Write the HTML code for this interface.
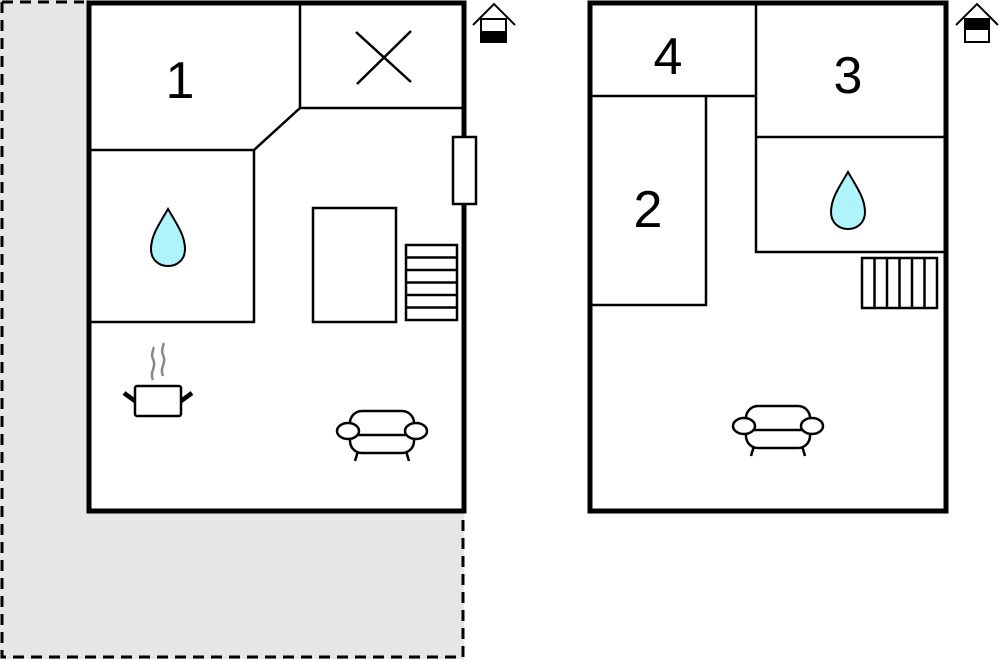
<!DOCTYPE html>
<html><head><meta charset="utf-8"><style>html,body{margin:0;padding:0;background:#fff}svg{display:block}</style></head>
<body>
<svg width="1000" height="659" viewBox="0 0 1000 659" xmlns="http://www.w3.org/2000/svg" font-family="Liberation Sans, sans-serif">
<defs>
<g id="sofa" fill="#fff" stroke="#000" stroke-width="2.5">
<line x1="22" y1="40" x2="19" y2="50"/><line x1="70" y1="40" x2="73" y2="50"/>
<rect x="14" y="0" width="64" height="42" rx="12"/>
<line x1="22" y1="24" x2="70" y2="24"/>
<ellipse cx="12" cy="20" rx="11" ry="8"/><ellipse cx="80" cy="20" rx="11" ry="8"/>
</g>
<path id="drop" d="M0,0 C8,14 17,26 17,40 C17,51 9,57 0,57 C-9,57 -17,51 -17,40 C-17,26 -8,14 0,0Z" fill="#aef4fa" stroke="#000" stroke-width="2"/>
</defs>
<!-- gray terrace -->
<path d="M0,0 H89 V511 H464 V659 H0Z" fill="#e6e6e6"/>
<path d="M2,2 H84 M2,2 V657 H463 V512" fill="none" stroke="#000" stroke-width="3" stroke-dasharray="11,7"/>
<!-- left building -->
<rect x="89" y="3" width="375" height="508" fill="#fff" stroke="#000" stroke-width="5"/>
<g stroke="#000" stroke-width="2.5" fill="none">
<path d="M300,3 V108 H462"/>
<path d="M300,108 L254,150 H91"/>
<path d="M254,150 V322 H91"/>
<line x1="356" y1="32" x2="411" y2="82"/><line x1="357" y1="84" x2="411" y2="31"/>
<rect x="313" y="208" width="83" height="114"/>
<rect x="406" y="245" width="51" height="75"/>
<line x1="406" y1="257.5" x2="457" y2="257.5"/><line x1="406" y1="270" x2="457" y2="270"/><line x1="406" y1="282.5" x2="457" y2="282.5"/><line x1="406" y1="295" x2="457" y2="295"/><line x1="406" y1="307.5" x2="457" y2="307.5"/>
</g>
<rect x="453" y="137" width="23" height="67" fill="#fff" stroke="#000" stroke-width="2.5"/>
<text x="180" y="98" font-size="52" text-anchor="middle">1</text>
<use href="#drop" x="168" y="209"/>
<!-- pot -->
<g fill="none">
<path d="M153,380 c-4,-8 4,-13 0,-21 c-3,-6 2,-10 0,-12" stroke="#888" stroke-width="2.5"/>
<path d="M163,376 c-4,-8 4,-13 0,-21 c-3,-6 2,-10 0,-12" stroke="#888" stroke-width="2.5"/>
<rect x="135" y="386" width="46" height="30" rx="2" stroke="#000" stroke-width="2.5" fill="#fff"/>
<line x1="124" y1="393" x2="135" y2="401" stroke="#000" stroke-width="4.5"/>
<line x1="181" y1="401" x2="192" y2="393" stroke="#000" stroke-width="4.5"/>
</g>
<use href="#sofa" x="336" y="411"/>
<!-- house icon left -->
<g stroke="#000" stroke-width="2" fill="none">
<path d="M473,25 L494,4 L515,25"/>
<rect x="481" y="19" width="25" height="23" fill="#fff"/>
</g>
<rect x="481" y="31" width="25" height="11" fill="#000"/>
<!-- right building -->
<rect x="590" y="3" width="356" height="508" fill="#fff" stroke="#000" stroke-width="5"/>
<g stroke="#000" stroke-width="2.5" fill="none">
<path d="M756,3 V252 H944"/>
<path d="M592,96 H756"/>
<path d="M706,96 V305 H592"/>
<path d="M756,137 H944"/>
<rect x="862" y="258" width="75" height="50"/>
<line x1="874.5" y1="258" x2="874.5" y2="308"/><line x1="887" y1="258" x2="887" y2="308"/><line x1="899.5" y1="258" x2="899.5" y2="308"/><line x1="912" y1="258" x2="912" y2="308"/><line x1="924.5" y1="258" x2="924.5" y2="308"/>
</g>
<text x="668" y="74" font-size="52" text-anchor="middle">4</text>
<text x="848" y="93" font-size="52" text-anchor="middle">3</text>
<text x="648" y="227" font-size="52" text-anchor="middle">2</text>
<use href="#drop" x="848" y="172"/>
<use href="#sofa" x="732" y="406"/>
<!-- house icon right -->
<g stroke="#000" stroke-width="2" fill="none">
<path d="M956,25 L977,4 L998,25"/>
<rect x="965" y="19" width="24" height="23" fill="#fff"/>
</g>
<rect x="965" y="19" width="24" height="11" fill="#000"/>
</svg>
</body></html>
